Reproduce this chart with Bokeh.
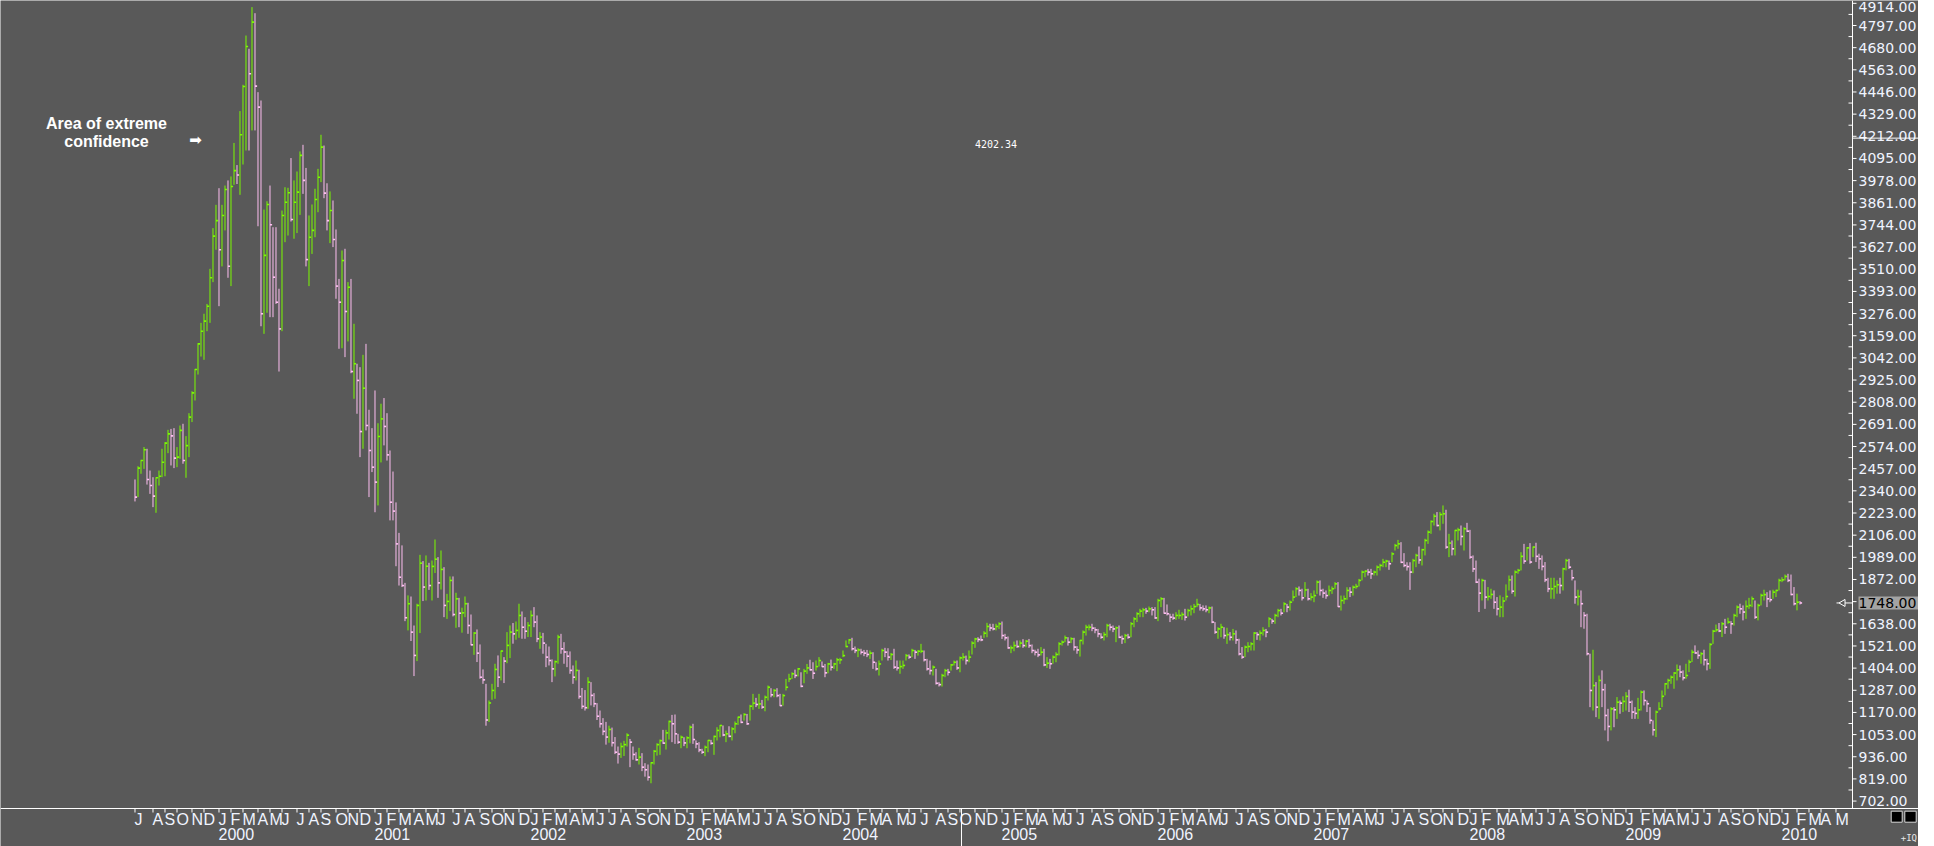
import datetime as dt
import math
from bokeh.plotting import figure
from bokeh.models import Range1d, ColumnDataSource
from bokeh.core.properties import value
from bokeh.embed import file_html
from bokeh.resources import INLINE

# ---------------- weekly bars (Jun 1999 .. Feb 2010) ----------------
highs = [
    2400, 2470, 2504, 2571, 2562, 2447, 2412, 2412, 2447, 2562,
    2597, 2662, 2667, 2671, 2571, 2685, 2694, 2629, 2750, 2866,
    2984, 3120, 3227, 3275, 3327, 3512, 3727, 3850, 3938, 3850,
    3952, 3979, 4000, 4177, 4060, 4345, 4484, 4744, 4674, 4894,
    4862, 4445, 4401, 3825, 3869, 3952, 3732, 3732, 3407, 3820,
    3943, 3940, 4097, 3979, 4026, 4132, 4167, 4045, 3794, 3852,
    3935, 4040, 4220, 4163, 3964, 3921, 3873, 3720, 3459, 3609,
    3618, 3442, 3459, 3222, 3011, 2993, 3058, 3116, 2768, 2671,
    2870, 2697, 2800, 2830, 2750, 2553, 2442, 2279, 2118, 2052,
    1854, 1788, 1782, 1629, 1744, 2002, 1969, 1999, 1960, 1972,
    2083, 1990, 2025, 1937, 1796, 1888, 1888, 1802, 1775, 1723,
    1782, 1749, 1687, 1594, 1608, 1529, 1397, 1321, 1233, 1321,
    1427, 1471, 1497, 1462, 1594, 1629, 1642, 1650, 1744, 1703,
    1673, 1647, 1708, 1726, 1682, 1594, 1590, 1532, 1518, 1450,
    1444, 1580, 1585, 1541, 1494, 1492, 1418, 1444, 1395, 1299,
    1288, 1356, 1330, 1272, 1219, 1180, 1140, 1120, 1100, 1090,
    1040, 990, 1010, 1020, 1060, 1030, 990, 960, 983, 955,
    902, 895, 907, 972, 1007, 1027, 1078, 1078, 1127, 1157,
    1159, 1057, 1048, 1039, 1044, 1101, 1110, 1022, 1013, 978,
    995, 1025, 1025, 1048, 1092, 1104, 1101, 1074, 1097, 1092,
    1122, 1148, 1159, 1166, 1162, 1210, 1268, 1247, 1268, 1236,
    1259, 1312, 1298, 1294, 1298, 1268, 1268, 1347, 1374, 1382,
    1396, 1405, 1382, 1400, 1426, 1448, 1435, 1444, 1462, 1439,
    1426, 1432, 1449, 1432, 1458, 1458, 1497, 1550, 1558, 1564,
    1518, 1509, 1506, 1500, 1500, 1497, 1488, 1435, 1444, 1506,
    1511, 1509, 1484, 1506, 1444, 1444, 1444, 1479, 1476, 1506,
    1500, 1500, 1532, 1497, 1453, 1444, 1418, 1400, 1330, 1374,
    1400, 1400, 1426, 1444, 1444, 1465, 1483, 1470, 1497, 1546,
    1564, 1567, 1576, 1599, 1643, 1638, 1638, 1638, 1646, 1650,
    1585, 1571, 1523, 1544, 1550, 1550, 1557, 1553, 1558, 1529,
    1501, 1506, 1515, 1506, 1462, 1453, 1471, 1488, 1541, 1550,
    1576, 1567, 1567, 1564, 1520, 1553, 1603, 1633, 1634, 1638,
    1620, 1611, 1588, 1594, 1638, 1638, 1629, 1624, 1629, 1576,
    1585, 1585, 1647, 1673, 1699, 1717, 1722, 1722, 1729, 1726,
    1726, 1770, 1779, 1775, 1740, 1691, 1691, 1699, 1712, 1699,
    1717, 1717, 1735, 1743, 1770, 1743, 1735, 1735, 1729, 1729,
    1647, 1620, 1638, 1620, 1617, 1594, 1611, 1603, 1559, 1515,
    1523, 1541, 1541, 1594, 1594, 1603, 1620, 1611, 1673, 1664,
    1691, 1717, 1717, 1752, 1743, 1761, 1814, 1831, 1835, 1823,
    1858, 1823, 1800, 1814, 1867, 1867, 1823, 1814, 1840, 1835,
    1858, 1858, 1787, 1787, 1831, 1831, 1840, 1849, 1875, 1919,
    1919, 1928, 1928, 1919, 1946, 1955, 1981, 1976, 1972, 2016,
    2060, 2081, 2069, 2011, 1963, 1963, 1981, 2008, 2046, 2034,
    2087, 2131, 2184, 2219, 2228, 2228, 2263, 2240, 2113, 2078,
    2134, 2145, 2157, 2148, 2171, 2134, 1999, 1972, 1876, 1876,
    1870, 1832, 1823, 1814, 1779, 1788, 1779, 1846, 1893, 1893,
    1920, 1928, 2016, 2060, 2043, 2064, 2046, 2066, 2008, 1999,
    1964, 1881, 1881, 1881, 1867, 1881, 1934, 1981, 1981, 1923,
    1867, 1818, 1814, 1700, 1691, 1480, 1501, 1330, 1365, 1392,
    1321, 1189, 1198, 1198, 1251, 1233, 1255, 1277, 1290, 1233,
    1198, 1247, 1286, 1286, 1233, 1198, 1128, 1180, 1224, 1286,
    1325, 1348, 1365, 1383, 1423, 1418, 1392, 1427, 1448, 1501,
    1524, 1497, 1488, 1501, 1453, 1536, 1606, 1634, 1642, 1647,
    1664, 1670, 1652, 1691, 1735, 1744, 1735, 1761, 1775, 1782,
    1761, 1744, 1797, 1818, 1805, 1814, 1818, 1818, 1876, 1884,
    1898, 1902, 1898, 1832, 1797, 1758,
]
lows = [
    2284, 2307, 2430, 2456, 2373, 2324, 2254, 2224, 2368, 2412,
    2417, 2539, 2474, 2460, 2465, 2509, 2483, 2409, 2518, 2703,
    2817, 2954, 3049, 3032, 3183, 3227, 3442, 3613, 3315, 3525,
    3715, 3465, 3421, 3956, 3960, 3903, 4063, 4137, 4137, 4243,
    4243, 3737, 3209, 3169, 3280, 3257, 3257, 3327, 2970, 3183,
    3653, 3688, 3762, 3671, 3701, 3797, 3908, 3525, 3421, 3591,
    3679, 3811, 3970, 3885, 3715, 3648, 3627, 3354, 3090, 3093,
    3046, 3129, 2961, 2826, 2747, 2518, 2562, 2659, 2307, 2439,
    2227, 2263, 2490, 2580, 2500, 2184, 2184, 1942, 1840, 1832,
    1652, 1603, 1547, 1362, 1441, 1589, 1758, 1761, 1817, 1761,
    1906, 1775, 1819, 1673, 1664, 1705, 1677, 1617, 1620, 1591,
    1673, 1585, 1524, 1474, 1436, 1348, 1321, 1100, 1120, 1237,
    1242, 1304, 1339, 1325, 1430, 1457, 1533, 1554, 1564, 1559,
    1559, 1568, 1568, 1620, 1541, 1506, 1480, 1409, 1418, 1330,
    1360, 1427, 1480, 1427, 1409, 1374, 1321, 1339, 1242, 1189,
    1180, 1189, 1207, 1198, 1130, 1090, 1050, 1000, 1010, 990,
    950, 900, 930, 940, 990, 881, 920, 915, 895, 860,
    831, 810, 796, 895, 942, 946, 1004, 974, 1027, 1013,
    1004, 1004, 981, 992, 981, 1007, 1004, 981, 960, 951,
    939, 960, 1000, 946, 1022, 1039, 1044, 1013, 1039, 1022,
    1060, 1104, 1113, 1127, 1104, 1127, 1184, 1198, 1189, 1189,
    1176, 1233, 1250, 1250, 1250, 1203, 1206, 1286, 1330, 1347,
    1351, 1360, 1303, 1324, 1374, 1391, 1347, 1391, 1412, 1409,
    1356, 1377, 1391, 1400, 1388, 1426, 1462, 1514, 1532, 1497,
    1483, 1462, 1476, 1467, 1462, 1453, 1400, 1391, 1365, 1444,
    1462, 1444, 1447, 1400, 1391, 1374, 1400, 1444, 1453, 1462,
    1453, 1470, 1483, 1439, 1391, 1370, 1365, 1317, 1307, 1307,
    1356, 1365, 1391, 1418, 1395, 1382, 1444, 1423, 1435, 1476,
    1511, 1541, 1546, 1564, 1567, 1599, 1603, 1603, 1611, 1558,
    1550, 1506, 1483, 1493, 1511, 1514, 1511, 1514, 1511, 1483,
    1471, 1462, 1471, 1414, 1405, 1400, 1427, 1435, 1471, 1523,
    1541, 1523, 1536, 1497, 1480, 1465, 1529, 1576, 1603, 1599,
    1588, 1567, 1559, 1550, 1567, 1603, 1594, 1541, 1562, 1532,
    1536, 1559, 1567, 1620, 1647, 1673, 1673, 1691, 1699, 1682,
    1664, 1652, 1726, 1691, 1682, 1647, 1659, 1659, 1664, 1659,
    1655, 1677, 1682, 1694, 1726, 1708, 1705, 1699, 1694, 1641,
    1585, 1559, 1567, 1559, 1532, 1550, 1550, 1532, 1471, 1453,
    1462, 1488, 1497, 1497, 1553, 1550, 1576, 1567, 1620, 1638,
    1638, 1673, 1682, 1699, 1699, 1708, 1757, 1779, 1787, 1761,
    1779, 1761, 1761, 1752, 1796, 1787, 1775, 1770, 1787, 1796,
    1823, 1726, 1708, 1743, 1765, 1779, 1787, 1823, 1835, 1867,
    1884, 1893, 1875, 1893, 1893, 1919, 1937, 1937, 1923, 1963,
    2025, 2034, 1958, 1937, 1919, 1817, 1905, 1937, 1955, 1946,
    1999, 2060, 2113, 2157, 2152, 2131, 2166, 2034, 1990, 1999,
    1999, 2078, 2052, 2025, 2122, 1981, 1911, 1853, 1700, 1761,
    1717, 1761, 1770, 1717, 1682, 1673, 1673, 1761, 1814, 1797,
    1782, 1902, 1920, 1955, 1972, 1955, 1990, 1964, 1928, 1920,
    1858, 1805, 1770, 1770, 1797, 1797, 1814, 1920, 1928, 1867,
    1744, 1735, 1620, 1612, 1471, 1198, 1180, 1145, 1136, 1198,
    1075, 1018, 1075, 1092, 1136, 1163, 1172, 1180, 1172, 1136,
    1136, 1136, 1180, 1207, 1172, 1110, 1048, 1040, 1180, 1198,
    1260, 1295, 1321, 1295, 1339, 1356, 1339, 1348, 1383, 1436,
    1480, 1453, 1427, 1418, 1392, 1400, 1532, 1594, 1594, 1568,
    1585, 1638, 1585, 1629, 1673, 1691, 1656, 1664, 1717, 1726,
    1664, 1656, 1735, 1761, 1726, 1752, 1770, 1779, 1814, 1858,
    1867, 1858, 1788, 1735, 1709, 1740,
]
closes = [
    2307, 2460, 2500, 2557, 2400, 2368, 2312, 2409, 2417, 2491,
    2592, 2641, 2630, 2513, 2518, 2659, 2500, 2579, 2729, 2857,
    2981, 3116, 3183, 3236, 3315, 3465, 3685, 3767, 3613, 3794,
    3931, 3526, 3947, 4031, 4008, 4220, 4475, 4686, 4542, 4815,
    4477, 4366, 3275, 3583, 3852, 3745, 3468, 3336, 3195, 3794,
    3864, 3914, 3773, 3864, 3917, 4111, 3979, 3561, 3679, 3715,
    3878, 3996, 4155, 3912, 3767, 3820, 3667, 3421, 3336, 3556,
    3287, 3415, 2970, 3011, 2923, 2653, 2882, 2685, 2553, 2465,
    2386, 2627, 2720, 2680, 2530, 2280, 2233, 2060, 1884, 1840,
    1670, 1744, 1594, 1471, 1735, 1958, 1832, 1942, 1840, 1941,
    1979, 1854, 1925, 1735, 1756, 1867, 1687, 1770, 1694, 1696,
    1744, 1629, 1527, 1589, 1483, 1356, 1342, 1130, 1220, 1286,
    1397, 1356, 1494, 1441, 1524, 1594, 1585, 1603, 1682, 1620,
    1599, 1629, 1682, 1647, 1559, 1568, 1536, 1462, 1444, 1400,
    1438, 1568, 1506, 1489, 1467, 1392, 1356, 1392, 1254, 1202,
    1195, 1330, 1260, 1216, 1150, 1110, 1070, 1040, 1080, 1010,
    960, 950, 990, 1000, 1050, 1013, 948, 920, 934, 881,
    867, 828, 904, 965, 1000, 1021, 1008, 1062, 1122, 1110,
    1057, 1013, 1039, 1009, 1036, 1092, 1027, 1004, 972, 960,
    986, 1022, 1007, 1043, 1075, 1101, 1051, 1057, 1044, 1083,
    1110, 1145, 1118, 1159, 1110, 1203, 1219, 1212, 1215, 1198,
    1250, 1303, 1263, 1286, 1259, 1206, 1259, 1303, 1347, 1374,
    1365, 1400, 1308, 1388, 1405, 1395, 1377, 1412, 1444, 1412,
    1379, 1426, 1409, 1426, 1448, 1448, 1470, 1518, 1553, 1506,
    1497, 1500, 1488, 1483, 1476, 1483, 1435, 1400, 1426, 1497,
    1488, 1462, 1476, 1409, 1405, 1412, 1418, 1470, 1462, 1497,
    1488, 1493, 1493, 1448, 1400, 1391, 1409, 1324, 1317, 1365,
    1391, 1382, 1421, 1435, 1405, 1458, 1462, 1444, 1462, 1536,
    1558, 1555, 1553, 1588, 1624, 1616, 1611, 1624, 1638, 1576,
    1564, 1511, 1511, 1523, 1518, 1536, 1523, 1546, 1523, 1497,
    1488, 1474, 1488, 1421, 1430, 1427, 1462, 1476, 1532, 1541,
    1564, 1541, 1559, 1515, 1500, 1550, 1594, 1620, 1620, 1615,
    1606, 1585, 1567, 1581, 1629, 1620, 1611, 1617, 1567, 1559,
    1576, 1567, 1638, 1664, 1691, 1705, 1712, 1705, 1717, 1712,
    1669, 1761, 1770, 1694, 1691, 1673, 1668, 1682, 1682, 1687,
    1673, 1708, 1717, 1729, 1740, 1722, 1717, 1712, 1722, 1647,
    1594, 1611, 1620, 1576, 1581, 1567, 1585, 1553, 1479, 1462,
    1515, 1518, 1532, 1589, 1581, 1589, 1603, 1594, 1664, 1652,
    1682, 1708, 1694, 1743, 1726, 1752, 1779, 1823, 1814, 1775,
    1817, 1770, 1779, 1787, 1858, 1814, 1800, 1787, 1814, 1823,
    1849, 1729, 1761, 1770, 1814, 1805, 1831, 1835, 1867, 1911,
    1916, 1911, 1902, 1911, 1937, 1946, 1963, 1969, 1955, 2007,
    2051, 2060, 1963, 1946, 1940, 1911, 1972, 1999, 1975, 2029,
    2078, 2122, 2178, 2206, 2157, 2215, 2219, 2043, 2064, 2034,
    2131, 2134, 2099, 2140, 2127, 1990, 1928, 1858, 1800, 1867,
    1779, 1782, 1793, 1752, 1717, 1726, 1758, 1782, 1870, 1810,
    1911, 1920, 1994, 1969, 2039, 1964, 2043, 1994, 1981, 1941,
    1870, 1823, 1823, 1835, 1844, 1840, 1928, 1972, 1937, 1881,
    1779, 1782, 1744, 1682, 1480, 1286, 1312, 1198, 1339, 1290,
    1154, 1096, 1189, 1184, 1224, 1219, 1228, 1255, 1224, 1172,
    1165, 1184, 1277, 1233, 1216, 1128, 1078, 1172, 1189, 1255,
    1321, 1339, 1356, 1378, 1395, 1383, 1353, 1365, 1436, 1488,
    1484, 1471, 1480, 1448, 1427, 1529, 1599, 1606, 1600, 1638,
    1620, 1647, 1638, 1682, 1726, 1717, 1700, 1730, 1735, 1770,
    1673, 1735, 1788, 1792, 1770, 1765, 1805, 1814, 1867, 1870,
    1888, 1867, 1793, 1744, 1752, 1748,
]

first_week = dt.date(1999, 6, 25)       # first weekly bar
n_slots = 573                            # weekly slots spanned by the time axis
month_initials = "JFMAMJJASOND"
price_ticks = [702 + 117 * k for k in range(37)]   # 702.00 ... 4914.00
cross_value = 4202.34
cross_slot = 275.5
note_lines = ["Area of extreme", "confidence"]

GREEN = "#7cfc00"
PINK = "#ffbff2"
BG = "#595959"
WHITE = "#ffffff"
LABEL = "#f0f4ff"

# ---------------- geometry: 3 px per weekly slot, 5.28 price units per px ----------------
W, H = 1918, 846
PX = 3.0
UPP = 5.28
X0 = -44.8333
X1 = X0 + W / PX
Y1 = 4929.0
Y0 = Y1 - H * UPP
XA = X0 + 1852 / PX          # price-axis line
YA = Y1 - 808 * UPP          # time-axis line


def dx(px):
    return px / PX


def dy(px):
    return px * UPP


n = len(closes)
xs = list(range(n))
colors = [PINK if (i == 0 or closes[i] < closes[i - 1]) else GREEN for i in xs]
src = ColumnDataSource(dict(x=xs, xr=[x + 0.7 for x in xs], h=highs, l=lows,
                            c=closes, color=colors))

p = figure(width=W, height=H, x_range=Range1d(X0, X1), y_range=Range1d(Y0, Y1),
           output_backend="svg", toolbar_location=None, title=None,
           x_axis_location=None, y_axis_location=None,
           min_border_left=0, min_border_top=0, min_border_right=0, min_border_bottom=0,
           background_fill_color=BG, border_fill_color=BG, outline_line_color=None)
p.grid.visible = False

# ---------------- bars ----------------
p.segment(x0="x", y0="l", x1="x", y1="h", line_color="color", line_width=1, source=src)
p.segment(x0="x", y0="c", x1="xr", y1="c", line_color="color", line_width=1.6, source=src)

# ---------------- price scale (right) ----------------
p.segment(x0=[XA], y0=[YA], x1=[XA], y1=[Y1], line_color=WHITE, line_width=1)
p.segment(x0=[XA] * len(price_ticks), x1=[XA + dx(4)] * len(price_ticks),
          y0=price_ticks, y1=price_ticks, line_color=WHITE, line_width=1)
minor = [t + 58.5 for t in price_ticks if t + 58.5 < Y1]
p.segment(x0=[XA - dx(4)] * len(minor), x1=[XA] * len(minor), y0=minor, y1=minor,
          line_color=WHITE, line_width=1)
shown = [t for t in price_ticks if abs(t - closes[-1]) > 30]
label_y = [min(t, Y1 - dy(6.5)) for t in shown]          # keep the top label inside
p.text(x=[XA + dx(6)] * len(shown), y=label_y, text=[f"{t:.2f}" for t in shown],
       text_font=value("DejaVu Sans"), text_font_size="14px", text_color=LABEL,
       text_align="left", text_baseline="middle")

# last price box
p.quad(left=[XA + dx(6)], right=[X1], top=[closes[-1] + dy(6.5)], bottom=[closes[-1] - dy(6.5)],
       fill_color="#a3a3a3", line_color=None)
p.text(x=[XA + dx(6)], y=[closes[-1]], text=[f"{closes[-1]:.2f}"],
       text_font=value("DejaVu Sans"), text_font_size="14px", text_color="black",
       text_align="left", text_baseline="middle")
p.segment(x0=[XA - dx(16)], x1=[XA], y0=[closes[-1]], y1=[closes[-1]], line_color=WHITE, line_width=1)
p.scatter(x=[XA - dx(9.5)], y=[closes[-1]], marker="triangle", angle=math.pi / 2, size=7,
          fill_color=BG, line_color=WHITE)

# ---------------- time scale (bottom) ----------------
p.segment(x0=[X0], y0=[YA], x1=[X1], y1=[YA], line_color=WHITE, line_width=1)
month_slots, month_labels, year_slots, year_labels = [], [], [], []
last = -10
for k in range(n_slots):
    d = first_week + dt.timedelta(days=7 * k)
    prev = first_week + dt.timedelta(days=7 * (k - 1))
    if k == 0 or d.month != prev.month:
        fits = k + dx(14) < XA
        if k - last >= 3 and fits:
            month_slots.append(k)
            month_labels.append(month_initials[d.month - 1])
            last = k
        if d.month == 1 and fits:
            year_slots.append(k)
            year_labels.append(str(d.year))

p.segment(x0=month_slots, x1=month_slots, y0=[YA] * len(month_slots),
          y1=[YA - dy(4)] * len(month_slots), line_color=WHITE, line_width=1)
p.text(x=[k - dx(0.5) for k in month_slots], y=[YA - dy(2)] * len(month_slots), text=month_labels,
       text_font=value("Liberation Sans"), text_font_size="16px", text_color=LABEL,
       text_align="left", text_baseline="top")
p.text(x=[k - dx(0.5) for k in year_slots], y=[YA - dy(19)] * len(year_slots), text=year_labels,
       text_font=value("Liberation Sans"), text_font_size="16px", text_color=LABEL,
       text_align="left", text_baseline="top")

# ---------------- annotations ----------------
p.text(x=[-9.5, -9.5], y=[4277, 4182], text=note_lines,
       text_font=value("Liberation Sans"), text_font_style="bold", text_font_size="16px",
       text_color=WHITE, text_align="center", text_baseline="middle")
p.text(x=[20.2], y=[4195], text=["\u27a1"], text_font=value("DejaVu Sans"),
       text_font_size="15px", text_color=WHITE, text_align="center", text_baseline="middle")
p.text(x=[287], y=[4171], text=[f"{cross_value:.2f}"], text_font=value("DejaVu Sans Mono"),
       text_font_size="10px", text_color=WHITE, text_align="center", text_baseline="middle")

# crosshair pieces shown on the scales
p.segment(x0=[XA], x1=[X1], y0=[cross_value], y1=[cross_value], line_color=WHITE, line_width=1)
p.segment(x0=[cross_slot], x1=[cross_slot], y0=[YA], y1=[Y0], line_color=WHITE, line_width=1)

# small window buttons and caption at the lower right
p.quad(left=[X1 - dx(27.3), X1 - dx(13.7)], right=[X1 - dx(16.3), X1 - dx(2.3)],
       top=[YA - dy(2.7)] * 2, bottom=[YA - dy(13.7)] * 2,
       fill_color="black", line_color="#d8d8d8", line_width=1)
p.text(x=[X1 - dx(1.5)], y=[YA - dy(29.5)], text=["+IQ"], text_font=value("DejaVu Sans Mono"),
       text_font_size="9px", text_color="#e8e8e8", text_align="right", text_baseline="middle")

open("out.html", "w").write(file_html(p, INLINE))
